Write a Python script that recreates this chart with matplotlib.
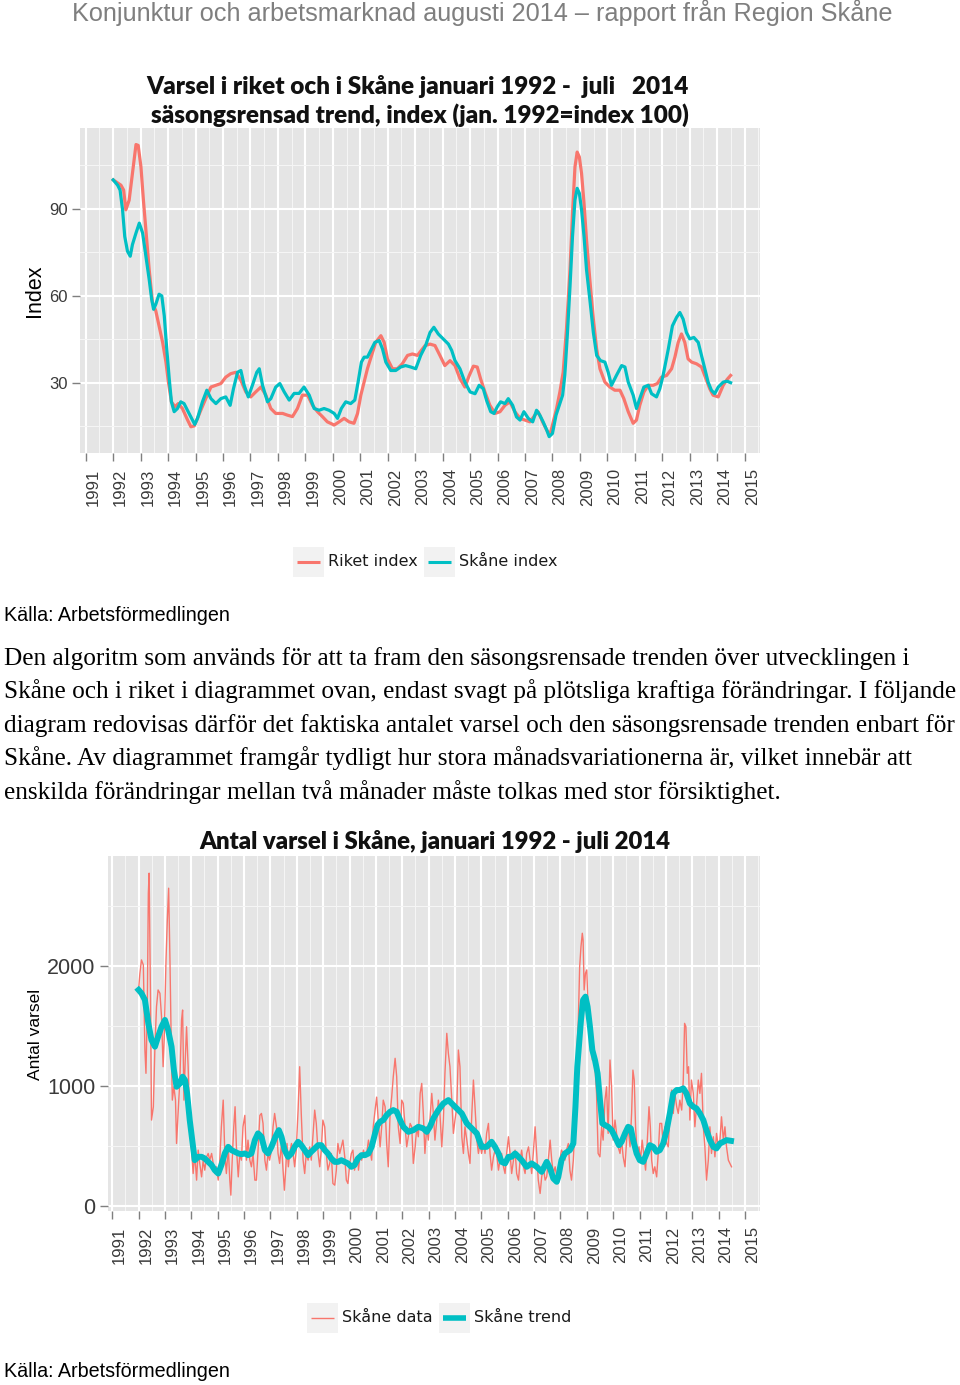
import numpy as np
import matplotlib
matplotlib.use("Agg")
import matplotlib.pyplot as plt
from matplotlib.patches import Rectangle
from matplotlib.lines import Line2D

W, H = 960, 1385
RED = "#F8766D"
TEAL = "#00BFC4"
plt.rcParams["font.family"] = ["Liberation Sans", "DejaVu Sans"]

# ---- chart 1: seasonally adjusted trend, index (jan 1992 = 100)
riket_year = [1992.00, 1992.28, 1992.38, 1992.46, 1992.58, 1992.67, 1992.76, 1992.83, 1992.91, 1993.01,
              1993.10, 1993.19, 1993.31, 1993.43, 1993.55, 1993.67, 1993.80, 1993.92, 1994.01, 1994.12,
              1994.25, 1994.37, 1994.52, 1994.71, 1994.83, 1994.95, 1995.07, 1995.19, 1995.37, 1995.56,
              1995.74, 1995.92, 1996.10, 1996.28, 1996.47, 1996.65, 1996.83, 1997.01, 1997.19, 1997.38,
              1997.56, 1997.74, 1997.92, 1998.17, 1998.35, 1998.53, 1998.71, 1998.89, 1999.08, 1999.26,
              1999.44, 1999.62, 1999.80, 2000.05, 2000.23, 2000.41, 2000.59, 2000.77, 2000.90, 2001.02,
              2001.14, 2001.26, 2001.41, 2001.56, 2001.75, 2001.87, 2001.99, 2002.17, 2002.35, 2002.53,
              2002.72, 2002.90, 2003.08, 2003.26, 2003.36, 2003.54, 2003.72, 2003.90, 2004.08, 2004.27,
              2004.45, 2004.63, 2004.81, 2004.97, 2005.12, 2005.26, 2005.38, 2005.54, 2005.72, 2005.91,
              2006.09, 2006.27, 2006.45, 2006.63, 2006.82, 2007.00, 2007.18, 2007.36, 2007.48, 2007.64,
              2007.79, 2007.91, 2008.03, 2008.15, 2008.27, 2008.39, 2008.51, 2008.64, 2008.73, 2008.82,
              2008.90, 2008.98, 2009.06, 2009.15, 2009.24, 2009.36, 2009.49, 2009.61, 2009.73, 2009.91,
              2010.09, 2010.27, 2010.46, 2010.60, 2010.76, 2010.94, 2011.06, 2011.18, 2011.33, 2011.49,
              2011.67, 2011.82, 2011.97, 2012.16, 2012.34, 2012.46, 2012.58, 2012.70, 2012.82, 2012.94,
              2013.07, 2013.25, 2013.43, 2013.59, 2013.73, 2013.85, 2014.04, 2014.22, 2014.36, 2014.49]
riket_index = [100.0, 98.2, 96.5, 89.7, 93.0, 99.9, 106.8, 112.2, 111.9, 104.5,
               93.0, 82.8, 69.1, 57.7, 54.9, 49.7, 44.0, 37.2, 30.3, 23.5,
               21.8, 22.9, 21.2, 17.2, 14.9, 15.2, 17.8, 20.6, 24.6, 28.6,
               29.2, 29.8, 32.0, 33.2, 33.7, 30.9, 26.9, 25.2, 26.9, 28.6,
               25.8, 21.2, 19.5, 19.5, 18.9, 18.4, 21.2, 25.8, 25.8, 22.3,
               20.1, 18.4, 16.6, 15.5, 16.6, 17.8, 16.6, 16.1, 19.5, 25.8,
               30.3, 34.9, 39.5, 44.0, 46.3, 44.0, 38.3, 34.9, 34.9, 36.6,
               39.5, 40.0, 39.5, 41.7, 42.9, 43.4, 42.9, 39.5, 36.0, 37.7,
               36.0, 31.5, 28.6, 32.6, 35.8, 35.5, 31.5, 26.9, 22.3, 19.5,
               20.1, 22.3, 23.5, 20.1, 17.8, 17.2, 16.6, 18.9, 20.1, 16.6,
               13.8, 12.1, 16.6, 21.2, 26.9, 33.7, 48.6, 69.1, 88.5, 104.5,
               109.6, 107.9, 102.2, 91.9, 79.4, 65.7, 52.0, 41.7, 34.9, 30.3,
               28.6, 27.5, 27.5, 24.6, 20.1, 16.1, 17.2, 22.3, 26.9, 29.2,
               29.2, 29.8, 32.0, 32.6, 34.9, 38.9, 44.0, 46.9, 44.0, 38.3,
               37.2, 36.6, 35.5, 31.5, 28.0, 25.8, 25.2, 29.2, 31.2, 32.6]

skane_year = [1992.00, 1992.16, 1992.25, 1992.34, 1992.42, 1992.52, 1992.62, 1992.70, 1992.83, 1992.95,
              1993.07, 1993.19, 1993.31, 1993.40, 1993.47, 1993.55, 1993.67, 1993.77, 1993.86, 1993.94,
              1994.04, 1994.12, 1994.22, 1994.34, 1994.46, 1994.58, 1994.73, 1994.89, 1994.97, 1995.07,
              1995.25, 1995.41, 1995.56, 1995.74, 1995.92, 1996.10, 1996.26, 1996.38, 1996.53, 1996.65,
              1996.77, 1996.92, 1997.07, 1997.23, 1997.32, 1997.44, 1997.62, 1997.74, 1997.92, 1998.07,
              1998.23, 1998.41, 1998.59, 1998.77, 1998.95, 1999.14, 1999.32, 1999.50, 1999.68, 1999.86,
              2000.05, 2000.17, 2000.31, 2000.47, 2000.65, 2000.80, 2000.92, 2001.04, 2001.14, 2001.26,
              2001.41, 2001.53, 2001.69, 2001.81, 2001.93, 2002.11, 2002.29, 2002.47, 2002.65, 2002.84,
              2003.02, 2003.20, 2003.38, 2003.54, 2003.68, 2003.84, 2004.02, 2004.21, 2004.33, 2004.45,
              2004.63, 2004.81, 2005.00, 2005.18, 2005.33, 2005.48, 2005.60, 2005.75, 2005.87, 2005.99,
              2006.11, 2006.27, 2006.39, 2006.55, 2006.69, 2006.82, 2006.96, 2007.12, 2007.28, 2007.42,
              2007.54, 2007.66, 2007.79, 2007.88, 2008.00, 2008.13, 2008.25, 2008.37, 2008.45, 2008.54,
              2008.64, 2008.73, 2008.82, 2008.90, 2008.98, 2009.06, 2009.15, 2009.24, 2009.36, 2009.49,
              2009.61, 2009.75, 2009.91, 2010.03, 2010.15, 2010.33, 2010.52, 2010.64, 2010.76, 2010.94,
              2011.06, 2011.18, 2011.33, 2011.49, 2011.61, 2011.79, 2011.91, 2012.03, 2012.22, 2012.37,
              2012.52, 2012.64, 2012.76, 2012.88, 2013.00, 2013.15, 2013.31, 2013.43, 2013.55, 2013.67,
              2013.79, 2013.91, 2014.04, 2014.22, 2014.36, 2014.49]
skane_index = [100.0, 98.2, 96.5, 89.7, 80.5, 75.4, 73.7, 77.7, 81.7, 85.1,
               81.7, 73.7, 65.7, 58.9, 55.4, 57.1, 60.6, 60.0, 53.1, 42.9,
               31.5, 23.5, 20.1, 21.2, 23.5, 22.9, 20.1, 17.2, 15.7, 17.8,
               23.5, 27.5, 24.6, 22.9, 24.6, 25.2, 22.3, 28.0, 33.7, 34.3,
               29.2, 25.2, 29.2, 33.7, 34.9, 29.2, 23.5, 24.6, 28.6, 29.8,
               26.9, 24.1, 26.4, 26.4, 28.6, 25.8, 21.2, 20.6, 21.2, 20.6,
               19.5, 17.8, 21.2, 23.5, 22.9, 24.1, 30.3, 37.2, 38.9, 38.9,
               41.7, 44.0, 44.6, 41.7, 37.2, 34.3, 34.3, 35.5, 36.0, 35.5,
               34.9, 39.5, 42.9, 47.4, 49.2, 46.9, 45.2, 43.4, 41.2, 37.7,
               34.9, 30.3, 26.9, 26.3, 29.2, 28.0, 24.0, 20.1, 19.5, 21.8,
               23.5, 22.9, 24.6, 22.3, 18.3, 17.2, 20.1, 17.8, 16.6, 20.6,
               18.9, 16.6, 13.8, 11.5, 12.6, 18.9, 22.3, 25.8, 32.6, 46.3,
               63.4, 80.5, 93.1, 97.1, 95.4, 89.7, 80.5, 69.1, 58.9, 47.4,
               39.5, 37.7, 37.2, 33.7, 29.2, 32.6, 36.0, 35.5, 30.3, 25.8,
               21.2, 24.6, 28.6, 29.2, 26.3, 25.2, 28.0, 32.6, 41.7, 49.7,
               52.6, 54.3, 52.0, 47.4, 45.2, 45.7, 44.0, 39.5, 34.9, 30.3,
               27.5, 26.3, 28.6, 30.3, 30.6, 30.1]

# ---- chart 2: number of notices in Skåne, raw data and trend
data_year = [1992.00, 1992.05, 1992.11, 1992.18, 1992.24, 1992.28, 1992.33, 1992.37, 1992.40, 1992.45,
             1992.49, 1992.56, 1992.62, 1992.68, 1992.74, 1992.81, 1992.87, 1992.93, 1992.97, 1993.04,
             1993.09, 1993.14, 1993.19, 1993.24, 1993.28, 1993.34, 1993.40, 1993.44, 1993.50, 1993.57,
             1993.63, 1993.67, 1993.72, 1993.77, 1993.82, 1993.88, 1993.94, 1994.01, 1994.07, 1994.13,
             1994.20, 1994.26, 1994.32, 1994.39, 1994.45, 1994.51, 1994.58, 1994.64, 1994.70, 1994.77,
             1994.83, 1994.89, 1994.95, 1995.02, 1995.08, 1995.14, 1995.21, 1995.27, 1995.33, 1995.40,
             1995.46, 1995.50, 1995.55, 1995.61, 1995.66, 1995.71, 1995.78, 1995.84, 1995.90, 1995.96,
             1996.03, 1996.09, 1996.15, 1996.22, 1996.28, 1996.34, 1996.41, 1996.47, 1996.53, 1996.60,
             1996.66, 1996.72, 1996.79, 1996.85, 1996.91, 1996.97, 1997.04, 1997.10, 1997.16, 1997.23,
             1997.29, 1997.35, 1997.42, 1997.48, 1997.53, 1997.58, 1997.63, 1997.68, 1997.73, 1997.80,
             1997.86, 1997.92, 1997.98, 1998.05, 1998.11, 1998.17, 1998.24, 1998.30, 1998.36, 1998.43,
             1998.49, 1998.55, 1998.62, 1998.68, 1998.74, 1998.81, 1998.87, 1998.93, 1998.99, 1999.06,
             1999.12, 1999.18, 1999.25, 1999.31, 1999.37, 1999.44, 1999.50, 1999.56, 1999.63, 1999.69,
             1999.75, 1999.82, 1999.88, 1999.94, 2000.01, 2000.07, 2000.13, 2000.19, 2000.26, 2000.32,
             2000.34, 2000.40, 2000.46, 2000.53, 2000.59, 2000.65, 2000.72, 2000.78, 2000.84, 2000.90,
             2000.97, 2001.03, 2001.09, 2001.16, 2001.22, 2001.28, 2001.35, 2001.41, 2001.47, 2001.54,
             2001.60, 2001.66, 2001.73, 2001.79, 2001.85, 2001.92, 2001.98, 2002.04, 2002.11, 2002.17,
             2002.23, 2002.30, 2002.36, 2002.42, 2002.49, 2002.55, 2002.61, 2002.68, 2002.74, 2002.80,
             2002.86, 2002.93, 2002.99, 2003.05, 2003.12, 2003.18, 2003.24, 2003.31, 2003.37, 2003.43,
             2003.50, 2003.56, 2003.62, 2003.69, 2003.75, 2003.81, 2003.88, 2003.94, 2004.00, 2004.07,
             2004.13, 2004.19, 2004.26, 2004.32, 2004.38, 2004.45, 2004.51, 2004.57, 2004.64, 2004.70,
             2004.76, 2004.83, 2004.89, 2004.95, 2005.01, 2005.08, 2005.14, 2005.20, 2005.27, 2005.33,
             2005.39, 2005.46, 2005.52, 2005.58, 2005.65, 2005.71, 2005.77, 2005.84, 2005.90, 2005.96,
             2006.03, 2006.09, 2006.15, 2006.22, 2006.28, 2006.34, 2006.41, 2006.47, 2006.53, 2006.60,
             2006.66, 2006.72, 2006.79, 2006.85, 2006.91, 2006.97, 2007.04, 2007.10, 2007.16, 2007.23,
             2007.29, 2007.35, 2007.42, 2007.48, 2007.54, 2007.61, 2007.67, 2007.73, 2007.80, 2007.86,
             2007.92, 2007.98, 2008.04, 2008.11, 2008.17, 2008.23, 2008.30, 2008.36, 2008.42, 2008.49,
             2008.55, 2008.61, 2008.68, 2008.73, 2008.78, 2008.83, 2008.86, 2008.90, 2008.95, 2009.00,
             2009.05, 2009.11, 2009.16, 2009.21, 2009.26, 2009.31, 2009.37, 2009.43, 2009.50, 2009.56,
             2009.62, 2009.69, 2009.75, 2009.81, 2009.88, 2009.94, 2010.00, 2010.07, 2010.13, 2010.19,
             2010.26, 2010.32, 2010.38, 2010.45, 2010.51, 2010.57, 2010.64, 2010.70, 2010.75, 2010.80,
             2010.85, 2010.91, 2010.98, 2011.04, 2011.10, 2011.17, 2011.23, 2011.29, 2011.36, 2011.41,
             2011.46, 2011.52, 2011.58, 2011.65, 2011.71, 2011.77, 2011.84, 2011.90, 2011.96, 2012.03,
             2012.09, 2012.15, 2012.22, 2012.28, 2012.34, 2012.41, 2012.47, 2012.53, 2012.60, 2012.66,
             2012.71, 2012.76, 2012.81, 2012.86, 2012.91, 2012.97, 2013.04, 2013.10, 2013.16, 2013.23,
             2013.29, 2013.35, 2013.42, 2013.48, 2013.54, 2013.61, 2013.67, 2013.73, 2013.80, 2013.86,
             2013.92, 2013.99, 2014.05, 2014.11, 2014.18, 2014.24, 2014.30, 2014.37, 2014.43, 2014.49]
data_count = [1800, 1939, 2050, 2008, 1300, 1106, 1633, 2605, 2772, 1772,
              717, 828, 1328, 1661, 1800, 1772, 1578, 1161, 1383, 2050,
              2383, 2647, 2050, 1328, 883, 994, 883, 522, 772, 1078,
              1550, 1633, 883, 1217, 1494, 1161, 661, 467, 272, 439,
              217, 467, 356, 244, 383, 300, 411, 439, 383, 439,
              356, 272, 328, 217, 383, 661, 883, 439, 272, 494,
              217, 92, 383, 661, 828, 494, 244, 439, 383, 661,
              756, 383, 550, 383, 328, 439, 217, 217, 467, 756,
              772, 689, 383, 300, 439, 383, 467, 661, 772, 661,
              439, 356, 522, 300, 133, 300, 522, 328, 439, 522,
              439, 328, 467, 800, 1161, 772, 383, 272, 439, 383,
              494, 383, 606, 800, 689, 439, 328, 467, 717, 661,
              439, 300, 356, 439, 189, 175, 300, 522, 439, 494,
              550, 411, 217, 189, 356, 439, 467, 300, 383, 411,
              300, 439, 383, 467, 411, 439, 550, 467, 383, 661,
              800, 908, 717, 494, 661, 883, 828, 522, 328, 772,
              908, 1078, 1231, 1078, 661, 522, 883, 855, 661, 494,
              578, 689, 661, 356, 494, 661, 578, 939, 1022, 772,
              439, 661, 550, 717, 939, 772, 550, 717, 883, 772,
              494, 717, 1106, 1439, 1272, 1161, 883, 606, 717, 828,
              1300, 1161, 578, 439, 661, 550, 439, 356, 772, 1050,
              828, 550, 439, 522, 439, 522, 439, 606, 689, 439,
              300, 411, 467, 439, 300, 383, 439, 328, 272, 439,
              578, 439, 272, 383, 467, 272, 217, 383, 467, 328,
              272, 439, 494, 383, 272, 439, 661, 439, 217, 106,
              244, 328, 217, 244, 383, 550, 383, 272, 328, 244,
              217, 383, 467, 439, 383, 467, 522, 300, 217, 383,
              661, 1217, 1550, 1994, 2161, 2272, 2217, 1800, 1939, 1967,
              1633, 1439, 1550, 1217, 1272, 1161, 939, 439, 411, 661,
              550, 883, 994, 606, 1217, 994, 550, 717, 606, 494,
              439, 550, 411, 328, 550, 661, 494, 772, 1133, 1050,
              661, 439, 494, 383, 550, 411, 300, 522, 828, 661,
              383, 272, 328, 244, 439, 689, 689, 494, 661, 522,
              494, 772, 967, 772, 939, 828, 772, 883, 800, 1050,
              1522, 1494, 1106, 1161, 717, 1050, 939, 661, 828, 1050,
              939, 1106, 661, 494, 217, 383, 661, 439, 578, 411,
              606, 494, 550, 744, 550, 661, 494, 383, 356, 328]

trend_year = [1992.00, 1992.11, 1992.24, 1992.37, 1992.49, 1992.62, 1992.74, 1992.87, 1993.00, 1993.12,
              1993.25, 1993.34, 1993.44, 1993.57, 1993.67, 1993.76, 1993.84, 1993.94, 1994.05, 1994.13,
              1994.26, 1994.39, 1994.51, 1994.64, 1994.77, 1994.89, 1995.02, 1995.14, 1995.27, 1995.40,
              1995.52, 1995.65, 1995.78, 1995.90, 1996.03, 1996.15, 1996.28, 1996.41, 1996.53, 1996.66,
              1996.79, 1996.91, 1997.04, 1997.19, 1997.32, 1997.42, 1997.54, 1997.67, 1997.80, 1997.92,
              1998.05, 1998.17, 1998.30, 1998.43, 1998.55, 1998.68, 1998.81, 1998.93, 1999.06, 1999.18,
              1999.31, 1999.44, 1999.56, 1999.69, 1999.82, 1999.94, 2000.07, 2000.19, 2000.32,
              2000.46, 2000.59, 2000.72, 2000.84, 2000.97, 2001.06, 2001.16, 2001.28, 2001.41, 2001.54,
              2001.66, 2001.79, 2001.92, 2002.04, 2002.23, 2002.42, 2002.61, 2002.80, 2002.93, 2003.05,
              2003.18, 2003.37, 2003.56, 2003.75, 2003.88, 2004.07, 2004.26, 2004.45, 2004.64, 2004.83,
              2005.01, 2005.20, 2005.39, 2005.52, 2005.65, 2005.77, 2005.90, 2006.03, 2006.15, 2006.28,
              2006.41, 2006.53, 2006.72, 2006.91, 2007.10, 2007.29, 2007.48, 2007.61, 2007.73, 2007.86,
              2007.92, 2008.04, 2008.17, 2008.36, 2008.49, 2008.57, 2008.64, 2008.70, 2008.78, 2008.86,
              2008.95, 2009.03, 2009.12, 2009.21, 2009.31, 2009.41, 2009.50, 2009.59, 2009.69, 2009.81,
              2009.94, 2010.07, 2010.22, 2010.32, 2010.45, 2010.57, 2010.67, 2010.76, 2010.89, 2011.01,
              2011.14, 2011.27, 2011.39, 2011.52, 2011.65, 2011.77, 2011.90, 2012.03, 2012.15, 2012.28,
              2012.41, 2012.53, 2012.66, 2012.78, 2012.91, 2013.04, 2013.16, 2013.29, 2013.42, 2013.54,
              2013.67, 2013.80, 2013.92, 2014.05, 2014.18, 2014.30, 2014.47]
trend_count = [1800, 1772, 1717, 1522, 1383, 1328, 1411, 1494, 1550, 1467,
               1328, 1133, 994, 1022, 1078, 1050, 939, 717, 522, 383,
               411, 411, 397, 369, 342, 300, 272, 342, 439, 494,
               467, 453, 439, 433, 439, 425, 439, 550, 606, 578,
               467, 439, 494, 578, 633, 578, 467, 411, 439, 494,
               536, 508, 467, 425, 453, 481, 508, 508, 467, 439,
               397, 369, 369, 383, 369, 356, 328, 342, 397,
               425, 425, 439, 494, 606, 675, 703, 717, 758, 786,
               800, 786, 717, 661, 619, 633, 661, 647, 619, 661,
               731, 800, 855, 883, 855, 814, 772, 689, 647, 606,
               494, 494, 536, 494, 439, 369, 356, 411, 411, 439,
               411, 383, 328, 356, 328, 286, 369, 314, 231, 203,
               244, 383, 439, 467, 522, 828, 1161, 1328, 1550, 1717,
               1744, 1661, 1494, 1300, 1217, 1106, 883, 689, 675, 661,
               633, 578, 508, 536, 606, 661, 647, 550, 439, 383,
               369, 439, 508, 494, 453, 467, 522, 633, 772, 939,
               967, 967, 981, 939, 855, 828, 814, 772, 717, 633,
               550, 494, 481, 522, 536, 550, 544]

YEARS = list(range(1991, 2016))
MID_YEARS = [y + 0.5 for y in YEARS]

HEADER = "Konjunktur och arbetsmarknad augusti 2014 \u2013 rapport från Region Skåne"
TITLE1 = ["Varsel i riket och i Skåne januari 1992 -  juli   2014",
          "säsongsrensad trend, index (jan. 1992=index 100)"]
TITLE2 = "Antal varsel i Skåne, januari 1992 - juli 2014"
SOURCE = "Källa: Arbetsförmedlingen"
BODY = ["Den algoritm som används för att ta fram den säsongsrensade trenden över utvecklingen i",
        "Skåne och i riket i diagrammet ovan, endast svagt på plötsliga kraftiga förändringar. I följande",
        "diagram redovisas därför det faktiska antalet varsel och den säsongsrensade trenden enbart för",
        "Skåne. Av diagrammet framgår tydligt hur stora månadsvariationerna är, vilket innebär att",
        "enskilda förändringar mellan två månader måste tolkas med stor försiktighet."]


def fx(x):
    return x / W


def fy(y):
    return 1 - y / H


def style(ax, xlim, ylim, yticks, yminor, ysize):
    ax.set_facecolor("#E5E5E5")
    ax.set_xlim(*xlim)
    ax.set_ylim(*ylim)
    ax.set_xticks(YEARS)
    ax.set_xticklabels([str(y) for y in YEARS])
    ax.set_xticks(MID_YEARS, minor=True)
    ax.set_yticks(yticks)
    ax.set_yticks(yminor, minor=True)
    ax.grid(which="major", color="white", lw=1.5)
    ax.grid(which="minor", color="#F5F5F5", lw=0.8)
    ax.set_axisbelow(True)
    for s in ax.spines.values():
        s.set_visible(False)
    ax.tick_params(which="minor", length=0)
    ax.tick_params(which="major", length=6, width=1, color="#7F7F7F")
    ax.tick_params(axis="x", pad=5, labelsize=12, labelcolor="#3A3A3A")
    ax.tick_params(axis="y", pad=3, labelsize=ysize, labelcolor="#3A3A3A")
    for lab in ax.get_xticklabels():
        lab.set_rotation(90)
        lab.set_ha("left")
        lab.set_va("top")


def legend(items, yc):
    for x0, label, color, lw in items:
        fig.add_artist(Rectangle((fx(x0), fy(yc + 15)), 31 / W, 30 / H,
                                 transform=fig.transFigure, color="#F2F2F2", lw=0))
        fig.add_artist(Line2D([fx(x0 + 4), fx(x0 + 27)], [fy(yc), fy(yc)],
                              transform=fig.transFigure, color=color, lw=lw,
                              solid_capstyle="butt"))
        fig.text(fx(x0 + 35), fy(yc), label, ha="left", va="center",
                 fontsize=11.5, family="DejaVu Sans", color="#1A1A1A")


fig = plt.figure(figsize=(W / 100, H / 100), dpi=100)

fig.text(fx(482), fy(21), HEADER, ha="center", va="baseline", fontsize=18.2, color="#7F7F7F")

# chart 1
ax1 = fig.add_axes([fx(80), fy(453), (760 - 80) / W, (453 - 128) / H])
style(ax1, (1990.79, 2015.56), (5.86, 117.9), [30, 60, 90], [15, 45, 75, 105], 12)
ax1.plot(riket_year, riket_index, color=RED, lw=2.3)
ax1.plot(skane_year, skane_index, color=TEAL, lw=2.3)
fig.text(fx(418), fy(93.5), TITLE1[0], ha="center", va="baseline", fontsize=17.5,
         family="Lato", weight="heavy", color="#111111")
fig.text(fx(420), fy(122.5), TITLE1[1], ha="center", va="baseline", fontsize=17.5,
         family="Lato", weight="heavy", color="#111111")
fig.text(fx(35), fy(291), "Index", rotation=90, ha="center", va="center", fontsize=15.5)
legend([(293, "Riket index", RED, 2.2), (424, "Skåne index", TEAL, 2.2)], 562)
fig.text(fx(4), fy(621), SOURCE, ha="left", va="baseline", fontsize=14.2)

for i, line in enumerate(BODY):
    fig.text(fx(4), fy(665 + 33.5 * i), line, ha="left", va="baseline",
             fontsize=18.2, family="Liberation Serif")

# chart 2
ax2 = fig.add_axes([fx(108), fy(1211), (760 - 108) / W, (1211 - 856) / H])
style(ax2, (1990.84, 2015.57), (-40, 2915), [0, 1000, 2000], [500, 1500, 2500], 15.5)
ax2.plot(data_year, data_count, color=RED, lw=1.0)
ax2.plot(trend_year, trend_count, color=TEAL, lw=4.3)
fig.text(fx(435), fy(849), TITLE2, ha="center", va="baseline", fontsize=17.2,
         family="Lato", weight="heavy", color="#111111")
fig.text(fx(35), fy(1034), "Antal varsel", rotation=90, ha="center", va="center", fontsize=12.5)
legend([(307, "Skåne data", RED, 1.0), (439, "Skåne trend", TEAL, 4.0)], 1318)
fig.text(fx(4), fy(1377), SOURCE, ha="left", va="baseline", fontsize=14.2)

fig.savefig("out.png", dpi=100)
